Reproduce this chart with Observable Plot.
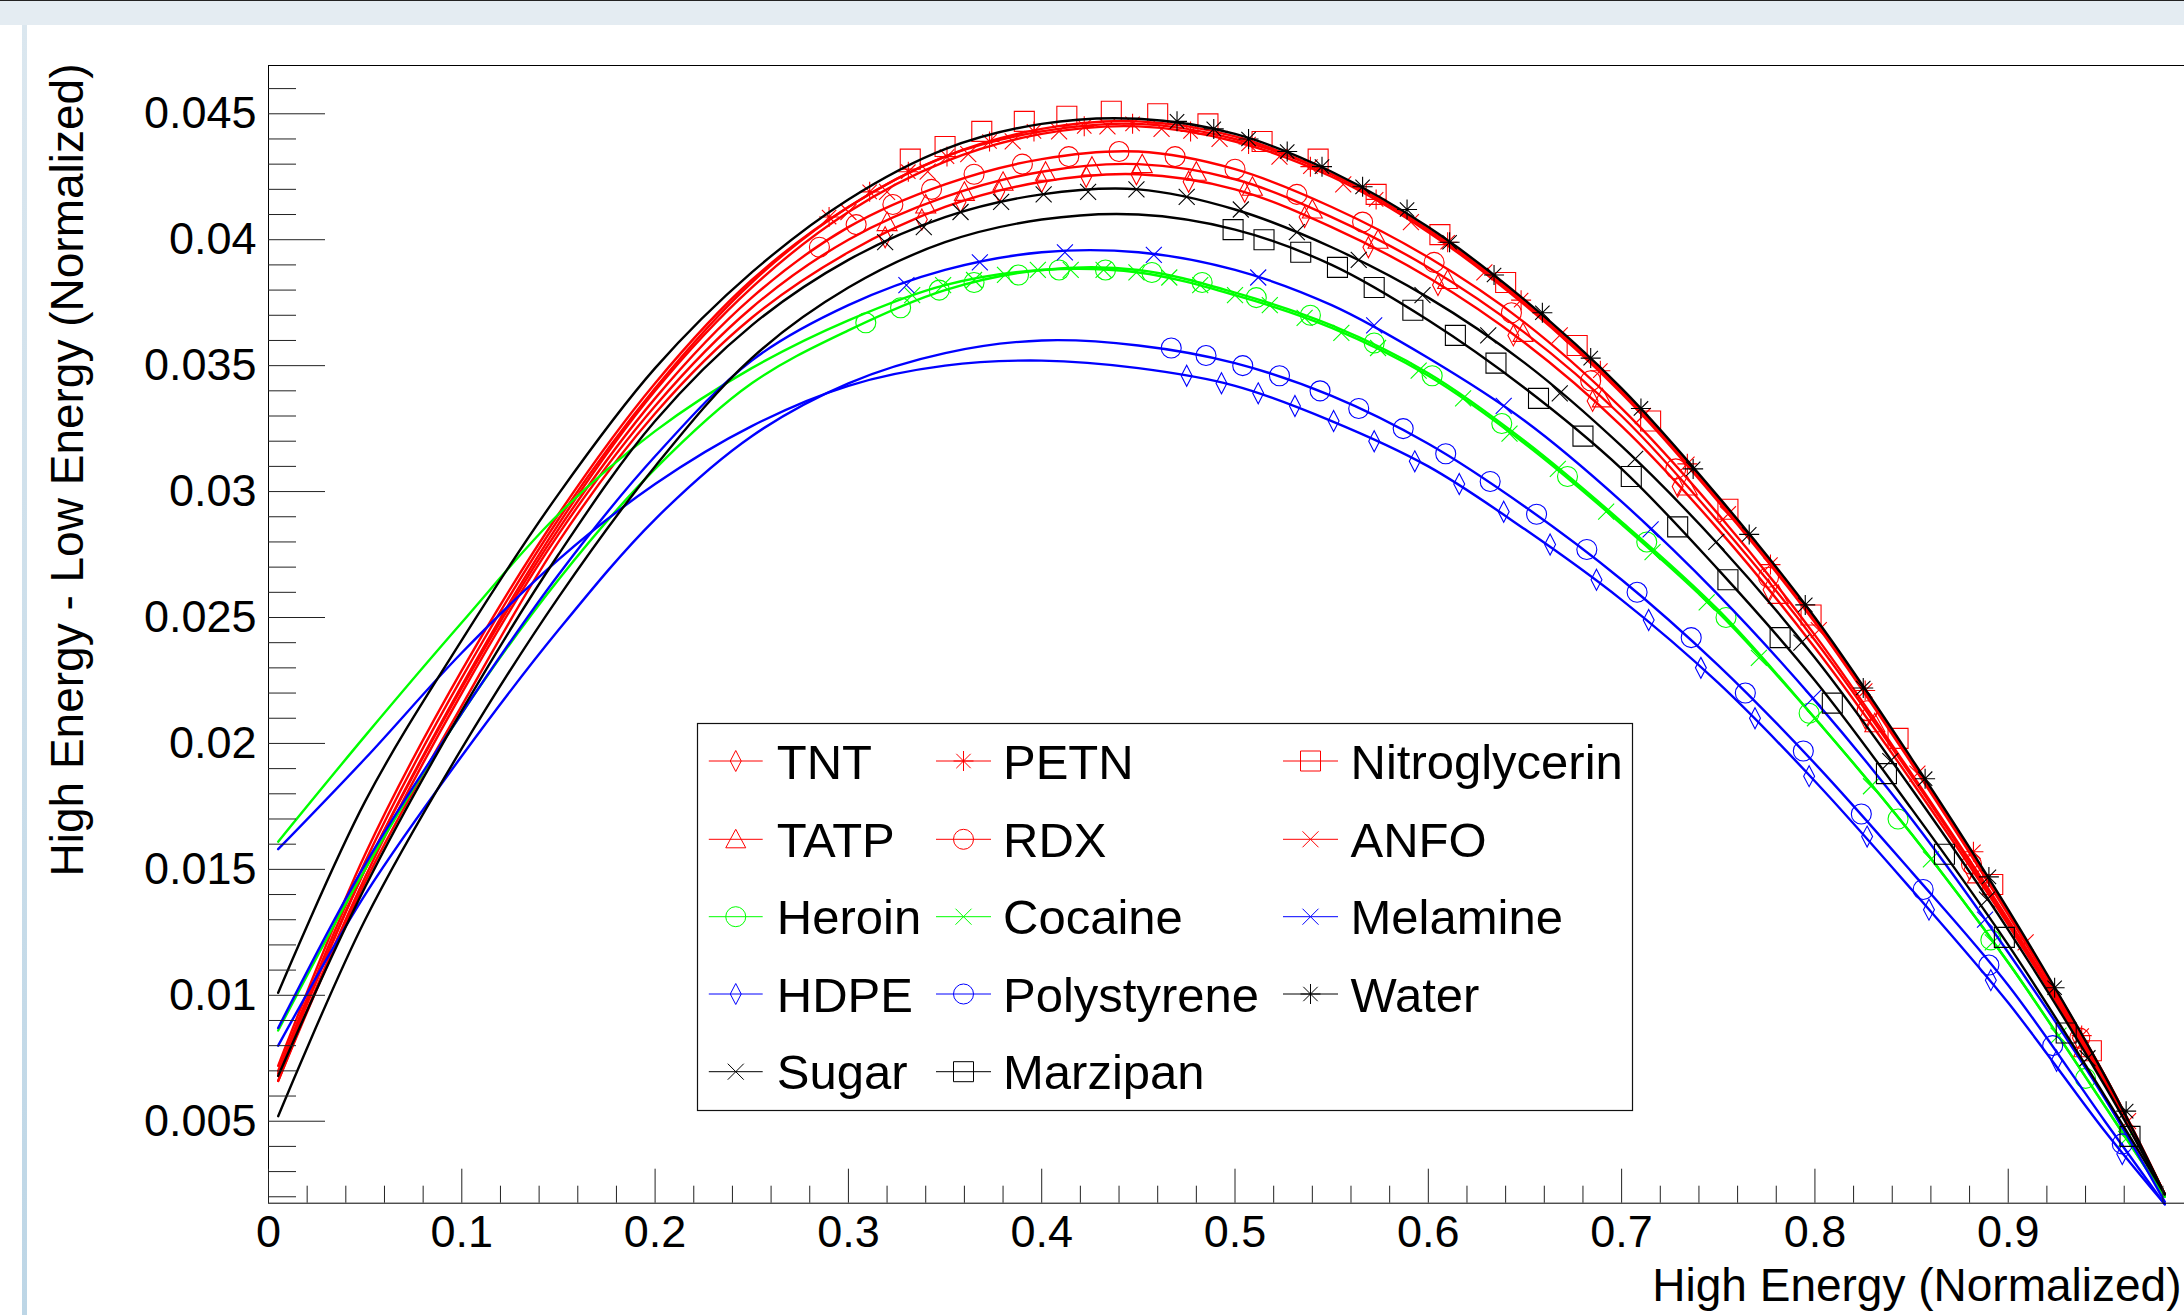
<!DOCTYPE html>
<html>
<head>
<meta charset="utf-8">
<script src="https://cdn.jsdelivr.net/npm/d3@7"></script>
<script src="https://cdn.jsdelivr.net/npm/@observablehq/plot@0.6"></script>
<style>
html, body { margin: 0; padding: 0; overflow: hidden; background: #fff; }
#wrap { position: relative; width: 2184px; height: 1315px; overflow: hidden; background: #fff; }
#chart { position: absolute; left: 0; top: 0; }
#topband { position: absolute; left: 0; top: 0; width: 2184px; height: 24px; background: #e4ecf2; border-top: 1px solid #222; }
#leftstrip { position: absolute; left: 22px; top: 25px; width: 5px; height: 1290px; background: linear-gradient(#dbe7ef, #bdd6e6); }
#legend { position: absolute; left: 0; top: 0; pointer-events: none; }
</style>
</head>
<body>
<div id="wrap">
  <div id="chart"></div>
  <div id="topband"></div>
  <div id="leftstrip"></div>
  <svg id="legend" width="2184" height="1315"></svg>
</div>
<script>
// ---------------- data ----------------
const seriesNames = ["TNT","PETN","Nitroglycerin","TATP","RDX","ANFO","Heroin","Cocaine","Melamine","HDPE","Polystyrene","Water","Sugar","Marzipan"];

// x positions of the curve knots (fit curves)
const lineX = [0.005,0.05,0.1,0.15,0.2,0.25,0.3,0.35,0.4,0.45,0.5,0.55,0.6,0.65,0.7,0.75,0.8,0.85,0.9,0.95,0.981];

const lineTNT      = [0.0066,0.0145,0.0215,0.0280,0.0331,0.0369,0.0395,0.0413,0.0423,0.0426,0.0420,0.0405,0.0385,0.0359,0.0326,0.0285,0.0238,0.0185,0.0128,0.0065,0.0021];
const linePETN     = [0.0072,0.0156,0.0229,0.0291,0.0343,0.0384,0.0413,0.0433,0.0443,0.0446,0.0440,0.0426,0.0404,0.0375,0.0340,0.0297,0.0249,0.0193,0.0133,0.0068,0.0021];
const lineNitro    = [0.0070,0.0153,0.0226,0.0289,0.0341,0.0383,0.0413,0.0433,0.0444,0.0447,0.0441,0.0426,0.0404,0.0375,0.0340,0.0297,0.0249,0.0193,0.0133,0.0068,0.0021];
const lineTATP     = [0.0066,0.0147,0.0220,0.0283,0.0334,0.0373,0.0400,0.0417,0.0427,0.0430,0.0424,0.0409,0.0389,0.0363,0.0330,0.0288,0.0241,0.0187,0.0129,0.0065,0.0021];
const lineRDX      = [0.0069,0.0150,0.0222,0.0285,0.0337,0.0377,0.0405,0.0422,0.0432,0.0435,0.0428,0.0413,0.0393,0.0367,0.0333,0.0291,0.0243,0.0188,0.0130,0.0066,0.0021];
const lineANFO     = [0.0068,0.0150,0.0223,0.0287,0.0340,0.0381,0.0411,0.0431,0.0442,0.0445,0.0439,0.0425,0.0403,0.0374,0.0339,0.0296,0.0248,0.0192,0.0132,0.0067,0.0021];
const lineHeroin   = [0.0086,0.0150,0.0212,0.0265,0.0309,0.0343,0.0364,0.0380,0.0388,0.0388,0.0379,0.0366,0.0347,0.0320,0.0288,0.0253,0.0210,0.0164,0.0113,0.0056,0.0020];
const lineCocaine  = [0.0161,0.0203,0.0248,0.0291,0.0324,0.0349,0.0368,0.0382,0.0388,0.0387,0.0378,0.0365,0.0346,0.0319,0.0287,0.0252,0.0210,0.0164,0.0113,0.0056,0.0020];
const lineMelamine = [0.0087,0.0152,0.0212,0.0267,0.0314,0.0352,0.0374,0.0388,0.0395,0.0395,0.0388,0.0374,0.0353,0.0328,0.0296,0.0259,0.0217,0.0170,0.0117,0.0059,0.0018];
const lineHDPE     = [0.0158,0.0194,0.0236,0.0273,0.0303,0.0326,0.0342,0.0350,0.0352,0.0349,0.0342,0.0328,0.0310,0.0285,0.0257,0.0224,0.0185,0.0142,0.0097,0.0046,0.0017];
const linePoly     = [0.0080,0.0140,0.0195,0.0245,0.0289,0.0322,0.0343,0.0355,0.0360,0.0358,0.0351,0.0338,0.0319,0.0294,0.0265,0.0231,0.0192,0.0149,0.0104,0.0050,0.0017];
const lineWater    = [0.0101,0.0177,0.0241,0.0299,0.0349,0.0387,0.0416,0.0436,0.0446,0.0448,0.0442,0.0427,0.0405,0.0376,0.0341,0.0298,0.0250,0.0194,0.0134,0.0068,0.0021];
const lineSugar    = [0.0068,0.0143,0.0213,0.0275,0.0328,0.0366,0.0392,0.0409,0.0418,0.0420,0.0412,0.0397,0.0377,0.0351,0.0318,0.0279,0.0234,0.0182,0.0126,0.0064,0.0021];
const lineMarzipan = [0.0052,0.0130,0.0198,0.0258,0.0310,0.0353,0.0381,0.0399,0.0408,0.0410,0.0404,0.0390,0.0368,0.0341,0.0309,0.0269,0.0225,0.0174,0.0120,0.0060,0.0021];

// measured points (markers)
const ptsTNTx = [0.319,0.338,0.358,0.378,0.400,0.423,0.449,0.476,0.505,0.536,0.569,0.605,0.644,0.685,0.729,0.776,0.826,0.880,0.936];
const ptsTNTy = [0.0401,0.0408,0.0415,0.0419,0.0423,0.0425,0.0426,0.0423,0.0419,0.0409,0.0397,0.0382,0.0362,0.0336,0.0302,0.0261,0.0210,0.0150,0.0083];
const ptsPETNx = [0.290,0.311,0.331,0.351,0.373,0.396,0.422,0.447,0.477,0.507,0.539,0.573,0.610,0.648,0.689,0.734,0.777,0.826,0.882,0.938];
const ptsPETNy = [0.0409,0.0419,0.0427,0.0433,0.0439,0.0443,0.0445,0.0446,0.0443,0.0438,0.0429,0.0416,0.0399,0.0376,0.0348,0.0311,0.0271,0.0221,0.0157,0.0084];
const ptsNitroX = [0.332,0.350,0.369,0.391,0.413,0.436,0.460,0.486,0.514,0.543,0.573,0.606,0.640,0.677,0.715,0.755,0.798,0.843,0.892,0.943];
const ptsNitroY = [0.0432,0.0437,0.0443,0.0447,0.0449,0.0451,0.0450,0.0446,0.0439,0.0432,0.0418,0.0402,0.0383,0.0358,0.0328,0.0293,0.0251,0.0202,0.0144,0.0078];
const ptsTATPx = [0.320,0.340,0.360,0.380,0.402,0.426,0.452,0.480,0.509,0.540,0.574,0.610,0.649,0.690,0.734,0.781,0.831,0.884,0.939];
const ptsTATPy = [0.0407,0.0414,0.0419,0.0423,0.0427,0.0429,0.0430,0.0427,0.0421,0.0412,0.0400,0.0384,0.0363,0.0337,0.0302,0.0259,0.0208,0.0148,0.0079];
const ptsRDXx = [0.285,0.304,0.323,0.343,0.365,0.390,0.414,0.440,0.469,0.500,0.532,0.566,0.603,0.643,0.684,0.728,0.776,0.827,0.881,0.937];
const ptsRDXy = [0.0397,0.0406,0.0414,0.0420,0.0426,0.0430,0.0433,0.0435,0.0433,0.0428,0.0418,0.0407,0.0391,0.0371,0.0344,0.0309,0.0266,0.0213,0.0152,0.0083];
const ptsANFOx = [0.300,0.320,0.341,0.362,0.385,0.409,0.434,0.462,0.492,0.523,0.556,0.591,0.629,0.668,0.711,0.755,0.802,0.853,0.909,0.962];
const ptsANFOy = [0.0411,0.0419,0.0427,0.0434,0.0439,0.0443,0.0445,0.0444,0.0440,0.0433,0.0422,0.0407,0.0387,0.0362,0.0330,0.0291,0.0245,0.0188,0.0121,0.0050];
const ptsHeroinX = [0.309,0.327,0.347,0.365,0.388,0.409,0.433,0.457,0.483,0.511,0.539,0.572,0.602,0.638,0.672,0.713,0.754,0.797,0.843,0.891,0.940];
const ptsHeroinY = [0.0367,0.0373,0.0380,0.0383,0.0386,0.0388,0.0388,0.0387,0.0383,0.0377,0.0370,0.0359,0.0346,0.0327,0.0306,0.0280,0.0250,0.0212,0.0170,0.0122,0.0067];
const ptsCocaineX = [0.333,0.349,0.365,0.381,0.398,0.415,0.432,0.449,0.466,0.482,0.500,0.518,0.536,0.555,0.574,0.595,0.618,0.642,0.667,0.692,0.716,0.744,0.771,0.800,0.829,0.860,0.892,0.926,0.961];
const ptsCocaineY = [0.0378,0.0382,0.0384,0.0386,0.0388,0.0388,0.0388,0.0387,0.0385,0.0382,0.0378,0.0374,0.0369,0.0363,0.0357,0.0348,0.0337,0.0323,0.0309,0.0292,0.0276,0.0256,0.0234,0.0210,0.0183,0.0154,0.0121,0.0084,0.0043];
const ptsMelamineX = [0.330,0.368,0.412,0.458,0.512,0.572,0.639,0.715,0.799,0.888];
const ptsMelamineY = [0.0382,0.0391,0.0395,0.0394,0.0385,0.0366,0.0334,0.0285,0.0218,0.0130];
const ptsHDPEx = [0.475,0.493,0.512,0.531,0.551,0.572,0.593,0.616,0.639,0.663,0.687,0.714,0.741,0.769,0.797,0.827,0.859,0.891,0.925,0.959];
const ptsHDPEy = [0.0346,0.0343,0.0339,0.0334,0.0328,0.0320,0.0312,0.0303,0.0292,0.0279,0.0265,0.0249,0.0230,0.0210,0.0187,0.0163,0.0134,0.0106,0.0074,0.0037];
const ptsPolyX = [0.467,0.485,0.504,0.523,0.544,0.564,0.587,0.609,0.632,0.656,0.682,0.708,0.736,0.764,0.794,0.824,0.856,0.890,0.923,0.959];
const ptsPolyY = [0.0357,0.0354,0.0350,0.0346,0.0340,0.0333,0.0325,0.0315,0.0304,0.0291,0.0277,0.0260,0.0242,0.0220,0.0197,0.0172,0.0142,0.0112,0.0080,0.0041];
const ptsWaterX = [0.470,0.489,0.507,0.527,0.545,0.566,0.589,0.611,0.634,0.659,0.684,0.710,0.737,0.766,0.795,0.825,0.857,0.890,0.924,0.961];
const ptsWaterY = [0.0447,0.0444,0.0440,0.0435,0.0429,0.0421,0.0412,0.0399,0.0386,0.0371,0.0353,0.0333,0.0309,0.0283,0.0255,0.0222,0.0186,0.0147,0.0103,0.0054];
const ptsSugarX = [0.319,0.339,0.358,0.379,0.401,0.424,0.449,0.475,0.503,0.532,0.564,0.597,0.631,0.668,0.707,0.749,0.793,0.839,0.889,0.941];
const ptsSugarY = [0.0399,0.0405,0.0411,0.0415,0.0418,0.0419,0.0420,0.0417,0.0412,0.0403,0.0392,0.0378,0.0362,0.0339,0.0313,0.0280,0.0240,0.0193,0.0138,0.0075];
const ptsMarzipanX = [0.499,0.515,0.534,0.553,0.572,0.592,0.614,0.635,0.657,0.680,0.705,0.729,0.755,0.782,0.809,0.837,0.867,0.898,0.930,0.963];
const ptsMarzipanY = [0.0404,0.0400,0.0395,0.0389,0.0381,0.0372,0.0362,0.0351,0.0337,0.0322,0.0306,0.0286,0.0265,0.0242,0.0216,0.0188,0.0156,0.0123,0.0085,0.0044];

// axes
const xMajor = [0,0.1,0.2,0.3,0.4,0.5,0.6,0.7,0.8,0.9];
const xTickLabels = ["0","0.1","0.2","0.3","0.4","0.5","0.6","0.7","0.8","0.9"];
const xMinor = [0.02,0.04,0.06,0.08,0.12,0.14,0.16,0.18,0.22,0.24,0.26,0.28,0.32,0.34,0.36,0.38,0.42,0.44,0.46,0.48,0.52,0.54,0.56,0.58,0.62,0.64,0.66,0.68,0.72,0.74,0.76,0.78,0.82,0.84,0.86,0.88,0.92,0.94,0.96,0.98];
const yMajor = [0.005,0.01,0.015,0.02,0.025,0.03,0.035,0.04,0.045];
const yTickLabels = ["0.005","0.01","0.015","0.02","0.025","0.03","0.035","0.04","0.045"];
const yMinor = [0.002,0.003,0.004,0.006,0.007,0.008,0.009,0.011,0.012,0.013,0.014,0.016,0.017,0.018,0.019,0.021,0.022,0.023,0.024,0.026,0.027,0.028,0.029,0.031,0.032,0.033,0.034,0.036,0.037,0.038,0.039,0.041,0.042,0.043,0.044,0.046];
const xDomain = [0, 0.99119];
const yDomain = [0.001745, 0.046917];
const xTitle = "High Energy (Normalized)";
const yTitle = "High Energy - Low Energy (Normalized)";

// ---------------- styles / symbols ----------------
const RED = "#ff0000", GREEN = "#00ff00", BLUE = "#0000ff", BLACK = "#000000";
const R = s => Math.sqrt(s / Math.PI);
const symAsterisk = { draw(c, s) { const r = R(s), d = r * 0.72;
  c.moveTo(0, -r); c.lineTo(0, r); c.moveTo(-r, 0); c.lineTo(r, 0);
  c.moveTo(-d, -d); c.lineTo(d, d); c.moveTo(-d, d); c.lineTo(d, -d); } };
const symTimes = { draw(c, s) { const r = R(s) * 0.8;
  c.moveTo(-r, -r); c.lineTo(r, r); c.moveTo(-r, r); c.lineTo(r, -r); } };
const symDiamond = { draw(c, s) { const r = R(s) * 1.05;
  c.moveTo(0, -r); c.lineTo(r * 0.52, 0); c.lineTo(0, r); c.lineTo(-r * 0.52, 0); c.closePath(); } };
const symTriangle = { draw(c, s) { const r = R(s);
  c.moveTo(0, -r); c.lineTo(r, r * 0.85); c.lineTo(-r, r * 0.85); c.closePath(); } };
const symSquare = { draw(c, s) { const r = R(s); c.rect(-r, -r, 2 * r, 2 * r); } };
const symCircle = { draw(c, s) { const r = R(s); c.moveTo(r, 0); c.arc(0, 0, r, 0, 2 * Math.PI); } };

const lines = [lineTNT, linePETN, lineNitro, lineTATP, lineRDX, lineANFO, lineHeroin, lineCocaine, lineMelamine, lineHDPE, linePoly, lineWater, lineSugar, lineMarzipan];
const ptsX = [ptsTNTx, ptsPETNx, ptsNitroX, ptsTATPx, ptsRDXx, ptsANFOx, ptsHeroinX, ptsCocaineX, ptsMelamineX, ptsHDPEx, ptsPolyX, ptsWaterX, ptsSugarX, ptsMarzipanX];
const ptsY = [ptsTNTy, ptsPETNy, ptsNitroY, ptsTATPy, ptsRDXy, ptsANFOy, ptsHeroinY, ptsCocaineY, ptsMelamineY, ptsHDPEy, ptsPolyY, ptsWaterY, ptsSugarY, ptsMarzipanY];
const colors = [RED, RED, RED, RED, RED, RED, GREEN, GREEN, BLUE, BLUE, BLUE, BLACK, BLACK, BLACK];
const symbols = [symDiamond, symAsterisk, symSquare, symTriangle, symCircle, symTimes, symCircle, symTimes, symTimes, symDiamond, symCircle, symAsterisk, symTimes, symSquare];

// ---------------- chart ----------------
const marks = [];
seriesNames.forEach((name, k) => {
  const curve = lines[k].map((y, i) => ({series: name, x: lineX[i], y}));
  const pts = ptsX[k].map((x, i) => ({series: name, x, y: ptsY[k][i]}));
  marks.push(Plot.line(curve, {x: "x", y: "y", stroke: colors[k], strokeWidth: 2.4, curve: "catmull-rom"}));
  marks.push(Plot.dot(pts, {x: "x", y: "y", stroke: colors[k], fill: "none", strokeWidth: 1.1, r: 10, symbol: symbols[k]}));
});

const chart = Plot.plot({
  width: 2184,
  height: 1315,
  marginLeft: 268,
  marginRight: 0,
  marginTop: 65,
  marginBottom: 112.3,
  x: {domain: xDomain, axis: null},
  y: {domain: yDomain, axis: null},
  style: {fontFamily: "'Liberation Sans', Arial, Helvetica, sans-serif", fontSize: "45px", color: "black", background: "white", overflow: "visible"},
  marks: [
    ...marks,
    Plot.ruleY([yDomain[1]], {stroke: "black", strokeWidth: 1}),
    Plot.ruleY([yDomain[0]], {stroke: "black", strokeWidth: 1}),
    Plot.ruleX([xDomain[0]], {stroke: "black", strokeWidth: 1}),
    Plot.axisY(yMajor, {tickSize: 57, dx: 57, tickPadding: 12, tickFormat: d => yTickLabels[yMajor.indexOf(d)], label: null, stroke: "#222"}),
    Plot.axisY(yMinor, {tickSize: 28, dx: 28, tickFormat: () => "", label: null, stroke: "#222"}),
    Plot.axisX(xMajor, {tickSize: 34, dy: -34, tickPadding: 12, tickFormat: d => xTickLabels[xMajor.indexOf(d)], label: null, stroke: "#222"}),
    Plot.axisX(xMinor, {tickSize: 17, dy: -17, tickFormat: () => "", label: null, stroke: "#222"}),
    Plot.text([yTitle], {text: d => d, frameAnchor: "top-left", rotate: -90, textAnchor: "end", lineAnchor: "bottom", dx: -186, dy: -2, fontSize: 46}),
    Plot.text([xTitle], {text: d => d, frameAnchor: "bottom-right", textAnchor: "end", lineAnchor: "bottom", dx: -3, dy: 97.3, fontSize: 46})
  ]
});
document.getElementById("chart").appendChild(chart);

// ---------------- legend ----------------
const lg = d3.select("#legend");
const box = {x: 697.5, y: 723.5, w: 935, h: 387};
const rowY = [761, 839.3, 916.7, 994, 1071.7];
const colLine = [[708.8, 762.7], [936, 991], [1283, 1338]];
const colText = [776.8, 1003, 1350.5];
lg.append("rect").attr("x", box.x).attr("y", box.y).attr("width", box.w).attr("height", box.h)
  .attr("fill", "white").attr("stroke", "#111").attr("stroke-width", 1.2);
seriesNames.forEach((name, k) => {
  const row = Math.floor(k / 3), col = k % 3;
  const y = rowY[row], [x1, x2] = colLine[col], xm = (x1 + x2) / 2;
  lg.append("line").attr("x1", x1).attr("x2", x2).attr("y1", y).attr("y2", y)
    .attr("stroke", colors[k]).attr("stroke-width", 1);
  lg.append("path").attr("d", d3.symbol(symbols[k], Math.PI * 100)())
    .attr("transform", `translate(${xm},${y})`).attr("fill", "none").attr("stroke", colors[k]).attr("stroke-width", 1);
  lg.append("text").attr("x", colText[col]).attr("y", y + 17.5).text(name)
    .attr("font-family", "'Liberation Sans', Arial, Helvetica, sans-serif").attr("font-size", 49).attr("fill", "black");
});
</script>
</body>
</html>
